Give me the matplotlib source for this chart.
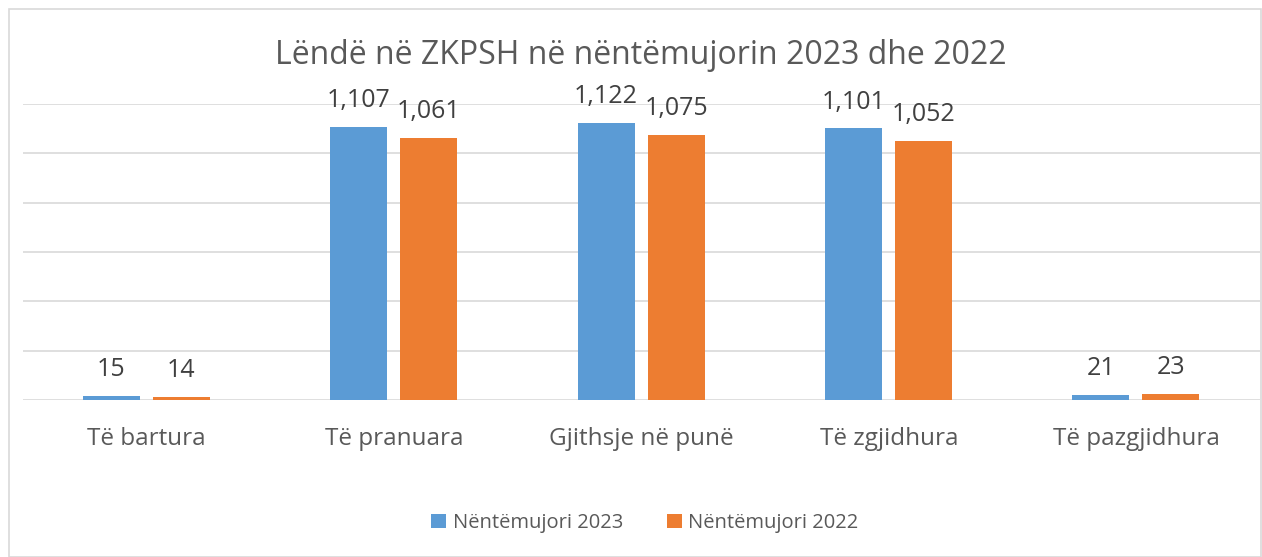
import matplotlib.pyplot as plt
import numpy as np
from matplotlib.patches import Rectangle

# ---------------------------
# Datos
kategorite = ["Të bartura", "Të pranuara", "Gjithsje në punë", "Të zgjidhura", "Të pazgjidhura"]
seria_2023 = [15, 1107, 1122, 1101, 21]
seria_2022 = [14, 1061, 1075, 1052, 23]
emrat = ["Nëntëmujori 2023", "Nëntëmujori 2022"]

blu = "#5B9BD5"
portokalli = "#ED7D31"
gri = "#595959"

plt.rcParams['font.family'] = ['Open Sans', 'DejaVu Sans']

fig = plt.figure(figsize=(12.62, 5.57), dpi=100)
ax = fig.add_axes([23 / 1262, 1 - 400 / 557, 1237 / 1262, (400 - 104) / 557])

x = np.arange(len(kategorite))
w = 0.23
b1 = ax.bar(x - 0.143, seria_2023, w, color=blu, label=emrat[0])
b2 = ax.bar(x + 0.14, seria_2022, w, color=portokalli, label=emrat[1])

for bars, vals in ((b1, seria_2023), (b2, seria_2022)):
    for r, v in zip(bars, vals):
        ax.annotate(f"{v:,}", (r.get_x() + r.get_width() / 2, v),
                    xytext=(0, 10), textcoords="offset points",
                    ha="center", va="bottom", fontsize=18, color="#404040")

ax.set_xlim(-0.5, 4.5)
ax.set_ylim(0, 1200)
ax.set_yticks(range(0, 1201, 200))
ax.yaxis.grid(True, color="#D9D9D9", linewidth=1.2)
ax.set_axisbelow(True)
ax.tick_params(axis="y", left=False, labelleft=False)
ax.tick_params(axis="x", bottom=False, labelsize=17.5, labelcolor=gri, pad=16)
ax.set_xticks(x)
ax.set_xticklabels(kategorite)
for s in ax.spines.values():
    s.set_visible(False)

fig.text(641 / 1262, 1 - 55 / 557, "Lëndë në ZKPSH në nëntëmujorin 2023 dhe 2022",
         ha="center", va="center", fontsize=23, color=gri)

fig.legend(handles=[b1, b2], labels=emrat, loc="center", bbox_to_anchor=(645 / 1262, 1 - 523 / 557),
           ncol=2, frameon=False, fontsize=14.5, labelcolor=gri,
           handlelength=0.75, handleheight=0.75, columnspacing=2.2, handletextpad=0.3)

fig.patches.append(Rectangle((9 / 1262, 0), 1 - 9 / 1262 - 1 / 1262, 1 - 9 / 557,
                             transform=fig.transFigure, fill=False,
                             edgecolor="#D9D9D9", linewidth=1.2))

fig.savefig("out.png", dpi=100)
